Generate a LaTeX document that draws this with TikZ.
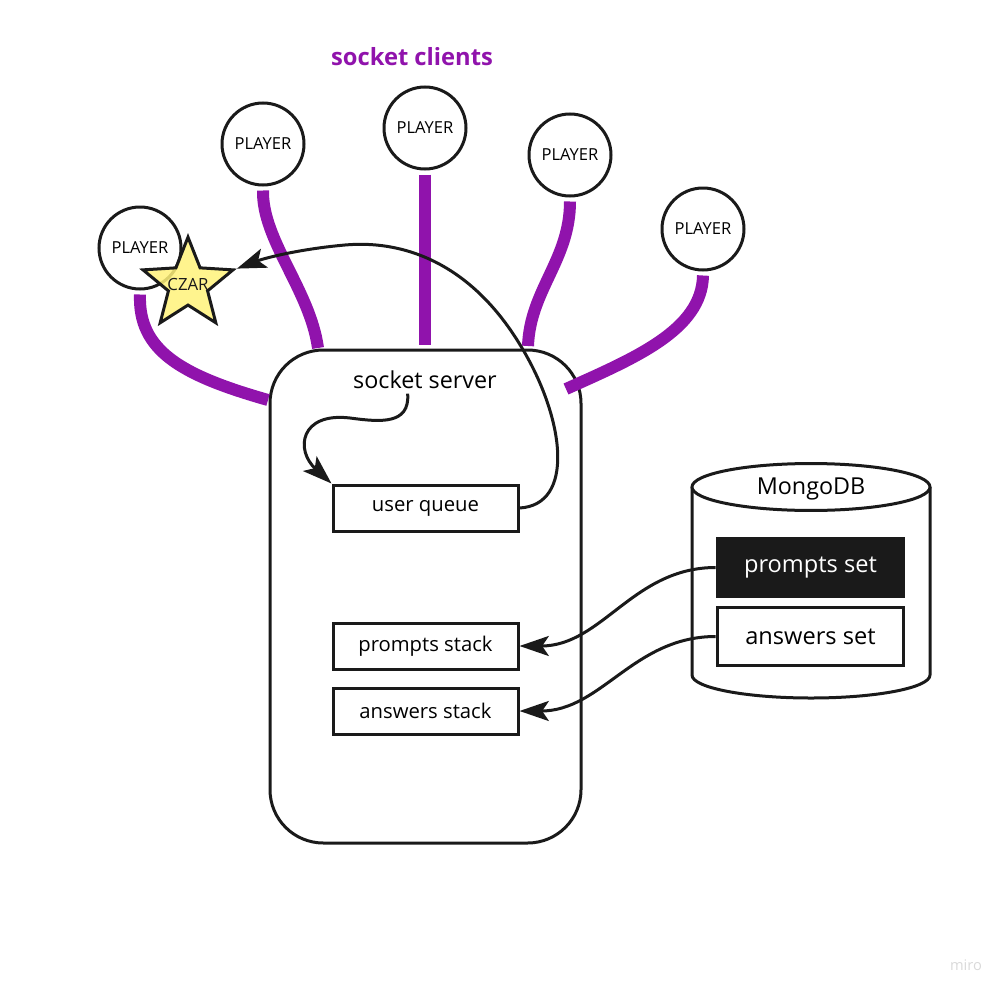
\documentclass[tikz,border=0pt]{standalone}
\usepackage{fontspec}
\setmainfont{Open Sans}
\usetikzlibrary{shapes.geometric,arrows.meta,positioning}
\definecolor{clientpurple}{HTML}{9013AC}
\definecolor{czaryellow}{HTML}{FFF27A}
\definecolor{inkblack}{HTML}{1A1A1A}
\tikzset{
  player/.style={circle,draw=inkblack,line width=2.25pt,fill=white,minimum size=61.5pt,inner sep=0pt,font=\fontsize{12.4}{14}\selectfont},
  wire/.style={draw=clientpurple,line width=9pt},
  stackbox/.style={draw=inkblack,line width=2.25pt,minimum width=138.75pt,minimum height=34.5pt,inner sep=0pt,font=\fontsize{15.2}{17}\selectfont},
  setbox/.style={draw=inkblack,line width=2.25pt,minimum width=140pt,minimum height=43.5pt,inner sep=0pt,font=\fontsize{17.7}{20}\selectfont},
  dataarrow/.style={-{Stealth[length=22pt,width=15pt,inset=5pt]},line width=2.25pt,draw=inkblack},
}
\begin{document}
\begin{tikzpicture}[x=0.75pt,y=-0.75pt]
\useasboundingbox (0,0) rectangle (1007,992);
% Server
\node[draw=inkblack,line width=2.25pt,rounded corners=40pt,minimum width=233.25pt,minimum height=369.75pt](server) at (425.5,596.5){};
\node[font=\fontsize{17.5}{20}\selectfont](ss) at (425,380){socket server};
\node[stackbox](uq) at (425.5,508){user queue};
\node[stackbox](pst) at (425.5,646){prompts stack};
\node[stackbox,below=12pt of pst](ast){answers stack};

% MongoDB
\draw[inkblack,line width=2.25pt,fill=white] (692,487) -- (692,675) arc[start angle=180,end angle=360,x radius=89.25pt,y radius=17.25pt] -- (930,487);
\draw[inkblack,line width=2.25pt,fill=white] (811,487) ellipse[x radius=89.25pt,y radius=17.6pt];
\node[font=\fontsize{17.5}{20}\selectfont](mongo) at (811,489){MongoDB};
\node[setbox,fill=inkblack,text=white](ps) at (810.5,567.5){prompts set};
\node[setbox,below=6pt of ps](as){answers set};

% Socket clients
\node[font=\bfseries\fontsize{17.8}{20}\selectfont,text=clientpurple](title) at (412,57){socket clients};
\node[player](p1) at (140,248){PLAYER};
\node[player](p2) at (263,144){PLAYER};
\node[player](p3) at (425,128){PLAYER};
\node[player](p4) at (570,155){PLAYER};
\node[player](p5) at (703,229){PLAYER};
\node[star,star points=5,star point ratio=2.3,draw=inkblack,line width=2.25pt,fill=czaryellow,fill opacity=0.85,minimum size=71pt,inner sep=0pt,
  label={[font=\fontsize{12.6}{14}\selectfont,text=inkblack]center:CZAR}](czar) at (188,284.5){};

% Wires
\coordinate (s1) at (268,400);
\coordinate (s2) at (318,348);
\coordinate (s3) at (425,345);
\coordinate (s4) at (528,346);
\coordinate (s5) at (566,389);
\draw[wire] ([yshift=-3pt]p1.south) .. controls (138,350) and (180,375) .. (s1);
\draw[wire] ([yshift=-3pt]p2.south) .. controls (262,240) and (310,290) .. (s2);
\draw[wire] ([yshift=-3pt]p3.south) -- (s3);
\draw[wire] ([yshift=-3pt]p4.south) .. controls (570,260) and (530,290) .. (s4);
\draw[wire] ([yshift=-3pt]p5.south) .. controls (702,330) and (635,358) .. (s5);

% Arrows
\draw[dataarrow] ([xshift=-13pt]ss.south) .. controls (410,425) and (380,422) .. (350,418) .. controls (300,412) and (295,450) .. (uq.north west);
\draw[dataarrow] (uq.east) .. controls (575,505) and (565,420) .. (522,348) .. controls (470,260) and (400,240) .. (345,245) .. controls (300,249) and (265,258) .. (czar.outer point 5);
\draw[dataarrow] (ps.west) to[out=180,in=0] (pst.east);
\draw[dataarrow] (as.west) to[out=180,in=0] (ast.east);

\node[font=\fontsize{11}{13}\selectfont,text=black!15](miro) at (966,965){miro};
\end{tikzpicture}
\end{document}
